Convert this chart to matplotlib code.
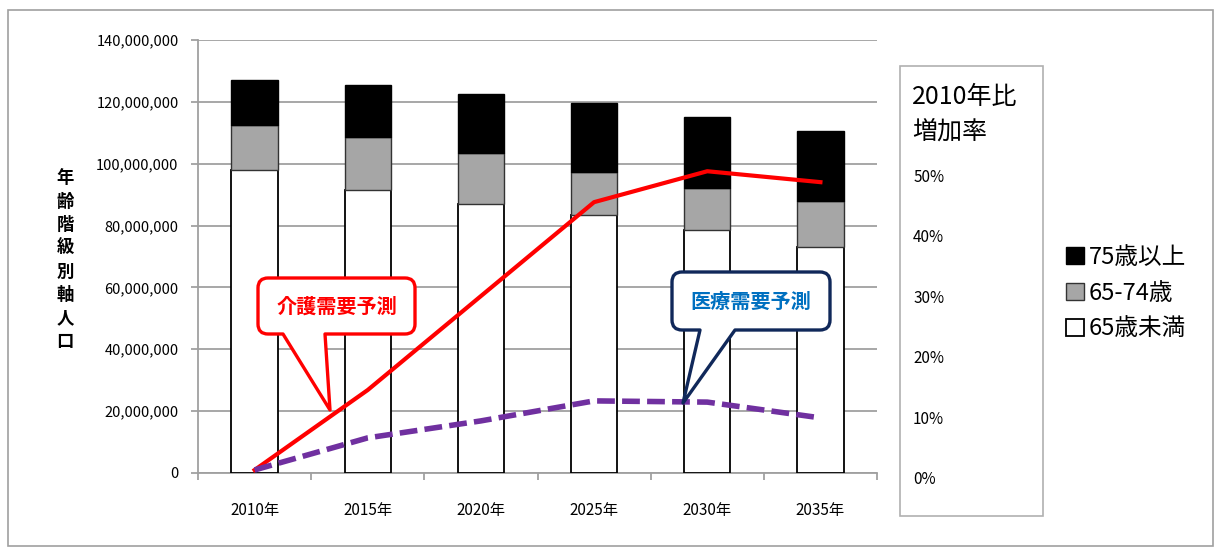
import matplotlib
matplotlib.use('Agg')
import matplotlib.pyplot as plt
import numpy as np
from matplotlib.path import Path
from matplotlib.patches import PathPatch, Rectangle
from matplotlib.transforms import Affine2D, ScaledTranslation

plt.rcParams['font.family'] = ['Noto Sans CJK JP', 'DejaVu Sans']

# data (population in people, growth rate vs 2010)
years = ['2010年', '2015年', '2020年', '2025年', '2030年', '2035年']
under65 = [97.9e6, 91.4e6, 86.9e6, 83.3e6, 78.7e6, 73.1e6]
age65_74 = [14.5e6, 17.3e6, 16.7e6, 13.9e6, 13.5e6, 14.7e6]
age75 = [14.6e6, 16.9e6, 19.1e6, 22.4e6, 22.9e6, 22.9e6]
care_rate = [0.0, 0.132, 0.287, 0.442, 0.493, 0.475]
medical_rate = [0.0, 0.053, 0.081, 0.114, 0.112, 0.086]
pct_ticks = [0.0, 0.1, 0.2, 0.3, 0.4, 0.5]

W, H = 1215, 549
fig = plt.figure(figsize=(W / 100, H / 100), dpi=100)
ax = fig.add_axes([198 / W, 1 - 473 / H, (877 - 198) / W, (473 - 40) / H])

# pixel (from top-left) -> figure transform for decorations
px = Affine2D().scale(1 / W, -1 / H).translate(0, 1) + fig.transFigure

x = np.arange(len(years))
u = np.array(under65)
m = np.array(age65_74)
o = np.array(age75)

bw = 0.41
b1 = ax.bar(x, u, bw, color='white', edgecolor='black', linewidth=1.3, zorder=3, label='65歳未満')
b2 = ax.bar(x, m, bw, bottom=u, color='#a6a6a6', edgecolor='#333333', linewidth=1.0, zorder=3, label='65-74歳')
b3 = ax.bar(x, o, bw, bottom=u + m, color='black', edgecolor='black', linewidth=1.0, zorder=3, label='75歳以上')

ax.set_xlim(-0.5, len(years) - 0.5)
ax.set_ylim(0, 140e6)
ax.set_yticks(np.arange(0, 140e6 + 1, 20e6))
ax.set_yticklabels(['{:,.0f}'.format(v) for v in np.arange(0, 140e6 + 1, 20e6)], fontsize=10.5)
ax.set_xticks(x)
ax.set_xticklabels(years, fontsize=11)
ax.set_xticks(np.arange(-0.5, len(years), 1), minor=True)
ax.tick_params(axis='x', which='major', length=0, pad=21)
ax.tick_params(axis='x', which='minor', length=5, color='#999999', width=1.2)
ax.tick_params(axis='y', length=5, color='#999999', width=1.2, pad=9)
ax.grid(True, axis='y', color='#a0a0a0', linewidth=1.3, zorder=0)
ax.set_axisbelow(True)
for s in ['top', 'right']:
    ax.spines[s].set_visible(False)
for s in ['left', 'bottom']:
    ax.spines[s].set_color('#a0a0a0')
    ax.spines[s].set_linewidth(1.3)

# secondary axis for growth rates
ax2 = ax.twinx()
ax2.set_ylim(-0.005, 0.7096)
ax2.plot(x, care_rate, color='#ff0000', linewidth=3, zorder=4)
ax2.plot(x, medical_rate, color='#7030a0', linewidth=4, dashes=(3.2, 1.3), dash_capstyle='butt', zorder=4)
ax2.set_yticks(pct_ticks)
ax2.set_yticklabels(['{:.0f}%'.format(p * 100) for p in pct_ticks], fontsize=11)
ax2.tick_params(axis='y', length=0, pad=26)
for lab in ax2.get_yticklabels():
    lab.set_transform(lab.get_transform() + ScaledTranslation(0, -0.08, fig.dpi_scale_trans))
for s in ax2.spines.values():
    s.set_visible(False)

# y-axis title, stacked vertically
fig.text(65 / W, 1 - 260 / H, '\n'.join('年齢階級別軸人口'), fontsize=12.5, fontweight='bold',
         ha='center', va='center', linespacing=1.38)

# box around the right-hand scale
fig.patches.append(Rectangle((900, 66), 143, 450, transform=px, fill=False,
                             edgecolor='#b0b0b0', linewidth=1.2))
fig.text(912 / W, 1 - 84 / H, '2010年比\n増加率', fontsize=18, ha='left', va='top', linespacing=1.45)

# outer frame
fig.patches.append(Rectangle((8, 10), 1205, 536, transform=px, fill=False,
                             edgecolor='#a0a0a0', linewidth=1.2))


def callout(x0, y0, x1, y1, tl, tr, tip, r, color):
    verts = [(x0 + r, y0), (x1 - r, y0), (x1, y0), (x1, y0 + r), (x1, y1 - r), (x1, y1), (x1 - r, y1),
             (tr, y1), tip, (tl, y1), (x0 + r, y1), (x0, y1), (x0, y1 - r), (x0, y0 + r), (x0, y0),
             (x0 + r, y0), (x0 + r, y0)]
    codes = [Path.MOVETO, Path.LINETO, Path.CURVE3, Path.CURVE3, Path.LINETO, Path.CURVE3, Path.CURVE3,
             Path.LINETO, Path.LINETO, Path.LINETO, Path.LINETO, Path.CURVE3, Path.CURVE3, Path.LINETO,
             Path.CURVE3, Path.CURVE3, Path.CLOSEPOLY]
    p = PathPatch(Path(verts, codes), transform=px, facecolor='white', edgecolor=color,
                  linewidth=2.4, joinstyle='round', zorder=10)
    fig.patches.append(p)


callout(258, 278, 415, 334, 283, 325, (330, 410), 10, '#ff0000')
fig.text(337 / W, 1 - 306 / H, '介護需要予測', color='#ff0000', fontsize=14.5, fontweight='bold',
         ha='center', va='center', zorder=11)
callout(672, 272, 830, 330, 700, 735, (683, 403), 10, '#10285a')
fig.text(751 / W, 1 - 301 / H, '医療需要予測', color='#0070c0', fontsize=14.5, fontweight='bold',
         ha='center', va='center', zorder=11)

# legend
fig.legend(handles=[b3, b2, b1], labels=['75歳以上', '65-74歳', '65歳未満'], loc='center left',
           bbox_to_anchor=(1045 / W, 1 - 293 / H), frameon=False, fontsize=17,
           handlelength=0.75, handleheight=0.75, handletextpad=0.2, labelspacing=0.55)

fig.savefig('out.png', dpi=100)
